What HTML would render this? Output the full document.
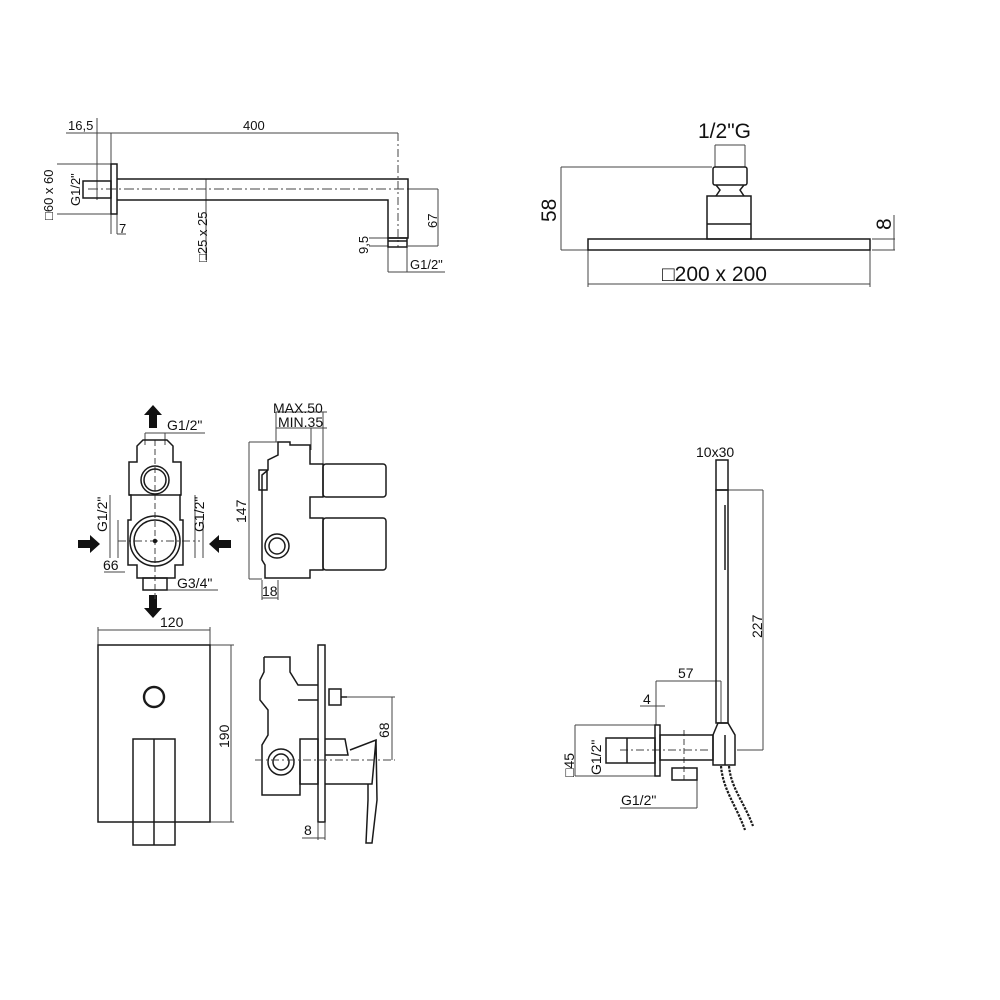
<!DOCTYPE html>
<html><head><style>
html,body{margin:0;padding:0;background:#fff;}
svg{display:block;}
text{font-family:"Liberation Sans","DejaVu Sans",sans-serif;fill:#111;}
</style></head><body>
<svg width="1000" height="1000" viewBox="0 0 1000 1000" xmlns="http://www.w3.org/2000/svg">
<g fill="none" stroke="#1a1a1a" stroke-width="1.5">
<g stroke-width="1" stroke="#444">
<line x1="66" y1="133" x2="398" y2="133"/>
<line x1="97" y1="118" x2="97" y2="200"/>
<line x1="111" y1="133" x2="111" y2="234"/>
<line x1="398" y1="133" x2="398" y2="247" stroke-dasharray="8,3,2,3"/>
<line x1="57" y1="164" x2="111" y2="164"/>
<line x1="57" y1="214" x2="111" y2="214"/>
<line x1="117" y1="214" x2="117" y2="234"/>
<line x1="117" y1="234" x2="126" y2="234"/>
<line x1="206" y1="179" x2="206" y2="260"/>
<line x1="408" y1="189" x2="438" y2="189"/>
<line x1="408" y1="246" x2="438" y2="246"/>
<line x1="438" y1="189" x2="438" y2="246"/>
<line x1="369" y1="238" x2="388" y2="238"/>
<line x1="369" y1="246" x2="388" y2="246"/>
<line x1="388" y1="246" x2="388" y2="272"/>
<line x1="407" y1="247" x2="407" y2="272"/>
<line x1="388" y1="272" x2="445" y2="272"/>
<line x1="88" y1="189" x2="408" y2="189" stroke-dasharray="10,3,2,3"/>
</g>
<rect x="111" y="164" width="6" height="50"/>
<rect x="83" y="181" width="28" height="17"/>
<path d="M117 179 H408 V238 H388 V200 H117"/>
<rect x="388" y="238" width="19" height="9"/>
<line x1="388" y1="241" x2="407" y2="241"/>
<g stroke-width="1" stroke="#444">
<line x1="715" y1="145" x2="745" y2="145"/>
<line x1="715" y1="145" x2="715" y2="167"/>
<line x1="745" y1="145" x2="745" y2="167"/>
<line x1="561" y1="167" x2="712" y2="167"/>
<line x1="561" y1="167" x2="561" y2="250"/>
<line x1="561" y1="250" x2="588" y2="250"/>
<line x1="872" y1="239" x2="895" y2="239"/>
<line x1="872" y1="250" x2="895" y2="250"/>
<line x1="894" y1="215" x2="894" y2="250"/>
<line x1="588" y1="284" x2="870" y2="284"/>
<line x1="588" y1="250" x2="588" y2="287"/>
<line x1="870" y1="250" x2="870" y2="287"/>
</g>
<rect x="588" y="239" width="282" height="11"/>
<rect x="707" y="196" width="44" height="43"/>
<line x1="707" y1="224" x2="751" y2="224"/>
<rect x="713" y="167" width="34" height="18" rx="2"/>
<path d="M716 185 L720 190 L716 196 M744 185 L740 190 L744 196"/>
<path d="M153 405 L144 415 H149 V428 H157 V415 H162 Z" fill="#111" stroke="none"/>
<path d="M153 618 L144 608 H149 V595 H157 V608 H162 Z" fill="#111" stroke="none"/>
<path d="M100 544 L90 535 V540 H78 V548 H90 V553 Z" fill="#111" stroke="none"/>
<path d="M209 544 L219 535 V540 H231 V548 H219 V553 Z" fill="#111" stroke="none"/>
<g stroke-width="1" stroke="#444">
<line x1="145" y1="433" x2="205" y2="433"/>
<line x1="145" y1="433" x2="145" y2="445"/>
<line x1="165" y1="433" x2="165" y2="445"/>
<line x1="110" y1="495" x2="110" y2="558"/>
<line x1="118" y1="520" x2="118" y2="558"/>
<line x1="195" y1="495" x2="195" y2="558"/>
<line x1="203" y1="520" x2="203" y2="558"/>
<line x1="104" y1="572" x2="125" y2="572"/>
<line x1="143" y1="590" x2="218" y2="590"/>
<line x1="155" y1="440" x2="155" y2="600" stroke-dasharray="6,3"/>
<line x1="118" y1="541" x2="200" y2="541" stroke-dasharray="8,3,2,3"/>
</g>
<path d="M137 462 V446 L143 440 H167 L173 446 V462 H181 V495 H180 V520 H183 V565 H175 V578 H137 V565 H128 V520 H131 V495 H129 V462 Z"/>
<line x1="129" y1="495" x2="181" y2="495"/>
<rect x="143" y="578" width="24" height="12"/>
<circle cx="155" cy="480" r="14"/><circle cx="155" cy="480" r="11"/>
<circle cx="155" cy="541" r="25"/><circle cx="155" cy="541" r="21"/>
<circle cx="155" cy="541" r="1.5" fill="#111"/>
<g stroke-width="1" stroke="#444">
<line x1="249" y1="442" x2="249" y2="579"/>
<line x1="249" y1="442" x2="278" y2="442"/>
<line x1="249" y1="579" x2="262" y2="579"/>
<line x1="276" y1="412" x2="276" y2="442"/>
<line x1="311" y1="428" x2="311" y2="450"/>
<line x1="323" y1="412" x2="323" y2="464"/>
<line x1="276" y1="412" x2="327" y2="412"/>
<line x1="276" y1="428" x2="327" y2="428"/>
<line x1="262" y1="580" x2="262" y2="600"/>
<line x1="278" y1="580" x2="278" y2="600"/>
<line x1="262" y1="598" x2="278" y2="598"/>
</g>
<path d="M278 442 H290 V445 H310 V464 H323 V497 H310 V518 H323 V570 H310 V578 H265 V565 L262 560 V475 L268 470 V460 L278 455 Z"/>
<rect x="323" y="464" width="63" height="33" rx="3"/>
<rect x="323" y="518" width="63" height="52" rx="3"/>
<circle cx="277" cy="546" r="12"/><circle cx="277" cy="546" r="8"/>
<rect x="259" y="470" width="8" height="20"/>
<g stroke-width="1" stroke="#444">
<line x1="98" y1="630" x2="210" y2="630"/>
<line x1="98" y1="627" x2="98" y2="645"/>
<line x1="210" y1="627" x2="210" y2="645"/>
<line x1="210" y1="645" x2="234" y2="645"/>
<line x1="210" y1="822" x2="234" y2="822"/>
<line x1="231" y1="645" x2="231" y2="822"/>
</g>
<rect x="98" y="645" width="112" height="177"/>
<circle cx="154" cy="697" r="10" stroke-width="2.4"/>
<rect x="133" y="739" width="42" height="106"/>
<line x1="154" y1="739" x2="154" y2="845"/>
<rect x="318" y="645" width="7" height="177"/>
<path d="M264 657 H290 V672 L298 685 H318 M264 657 V672 L260 680 V700 L268 710 V735 L262 745 V795 H300 V760 M298 700 H318"/>
<circle cx="281" cy="762" r="13"/><circle cx="281" cy="762" r="8"/>
<rect x="300" y="739" width="18" height="45"/>
<rect x="329" y="689" width="12" height="16"/>
<line x1="341" y1="697" x2="347" y2="697"/>
<path d="M325 739 H345 L348 755 H325 M325 784 H372 L376 740 L350 750"/>
<path d="M376 740 L377 800 L372 843 L366 843 L368 800 L368 784"/>
<g stroke-width="1" stroke="#444">
<line x1="347" y1="697" x2="395" y2="697"/>
<line x1="392" y1="697" x2="392" y2="760"/>
<line x1="255" y1="760" x2="395" y2="760" stroke-dasharray="8,3,2,3"/>
<line x1="318" y1="822" x2="318" y2="840"/>
<line x1="325" y1="822" x2="325" y2="840"/>
<line x1="302" y1="838" x2="325" y2="838"/>
</g>
<g stroke-width="1" stroke="#444">
<line x1="728" y1="490" x2="763" y2="490"/>
<line x1="763" y1="490" x2="763" y2="750"/>
<line x1="737" y1="750" x2="763" y2="750"/>
<line x1="656" y1="681" x2="721" y2="681"/>
<line x1="656" y1="681" x2="656" y2="725"/>
<line x1="721" y1="681" x2="721" y2="723"/>
<line x1="640" y1="706" x2="665" y2="706"/>
<line x1="575" y1="725" x2="655" y2="725"/>
<line x1="575" y1="776" x2="655" y2="776"/>
<line x1="575" y1="725" x2="575" y2="776"/>
<line x1="620" y1="808" x2="697" y2="808"/>
<line x1="697" y1="780" x2="697" y2="808"/>
<line x1="620" y1="750" x2="710" y2="750" stroke-dasharray="8,3,2,3"/>
<line x1="684" y1="730" x2="684" y2="780" stroke-dasharray="6,3"/>
</g>
<rect x="716" y="460" width="12" height="30"/>
<rect x="716" y="490" width="12" height="233"/>
<line x1="725" y1="505" x2="725" y2="570"/>
<rect x="655" y="725" width="5" height="51"/>
<rect x="606" y="738" width="49" height="25"/>
<line x1="627" y1="738" x2="627" y2="763"/>
<rect x="660" y="735" width="53" height="25"/>
<path d="M713 735 L718 723 H728 L735 735 V765 H713 Z"/>
<line x1="725" y1="735" x2="725" y2="765"/>
<rect x="672" y="768" width="25" height="12"/>
<path d="M721 766 C723 790 736 805 745 830 M729 766 C731 788 743 800 753 826" stroke-width="2.2" stroke-dasharray="2.5,1.2"/>
</g>
<g font-size="13">
<text x="68" y="130">16,5</text>
<text x="243" y="130">400</text>
<text transform="translate(53,220) rotate(-90)">□60 x 60</text>
<text transform="translate(80,206) rotate(-90)">G1/2"</text>
<text x="119" y="233">7</text>
<text transform="translate(207,262) rotate(-90)">□25 x 25</text>
<text transform="translate(437,228) rotate(-90)">67</text>
<text transform="translate(368,254) rotate(-90)">9,5</text>
<text x="410" y="269">G1/2"</text>
</g>
<g font-size="21">
<text x="698" y="138">1/2"G</text>
<text transform="translate(556,222) rotate(-90)">58</text>
<text transform="translate(891,230) rotate(-90)">8</text>
<text x="662" y="281">□200 x 200</text>
</g>
<g font-size="14">
<text x="167" y="430">G1/2"</text>
<text transform="translate(107,532) rotate(-90)">G1/2"</text>
<text transform="translate(204,532) rotate(-90)">G1/2"</text>
<text x="103" y="570">66</text>
<text x="177" y="588">G3/4"</text>
<text x="273" y="413">MAX.50</text>
<text x="278" y="427">MIN.35</text>
<text transform="translate(246,523) rotate(-90)">147</text>
<text x="262" y="596">18</text>
<text x="160" y="627">120</text>
<text transform="translate(229,748) rotate(-90)">190</text>
<text transform="translate(389,738) rotate(-90)">68</text>
<text x="304" y="835">8</text>
<text x="696" y="457">10x30</text>
<text transform="translate(762,638) rotate(-90)">227</text>
<text x="678" y="678">57</text>
<text x="643" y="704">4</text>
<text transform="translate(574,777) rotate(-90)">□45</text>
<text transform="translate(601,775) rotate(-90)">G1/2"</text>
<text x="621" y="805">G1/2"</text>
</g>
</svg>
</body></html>
